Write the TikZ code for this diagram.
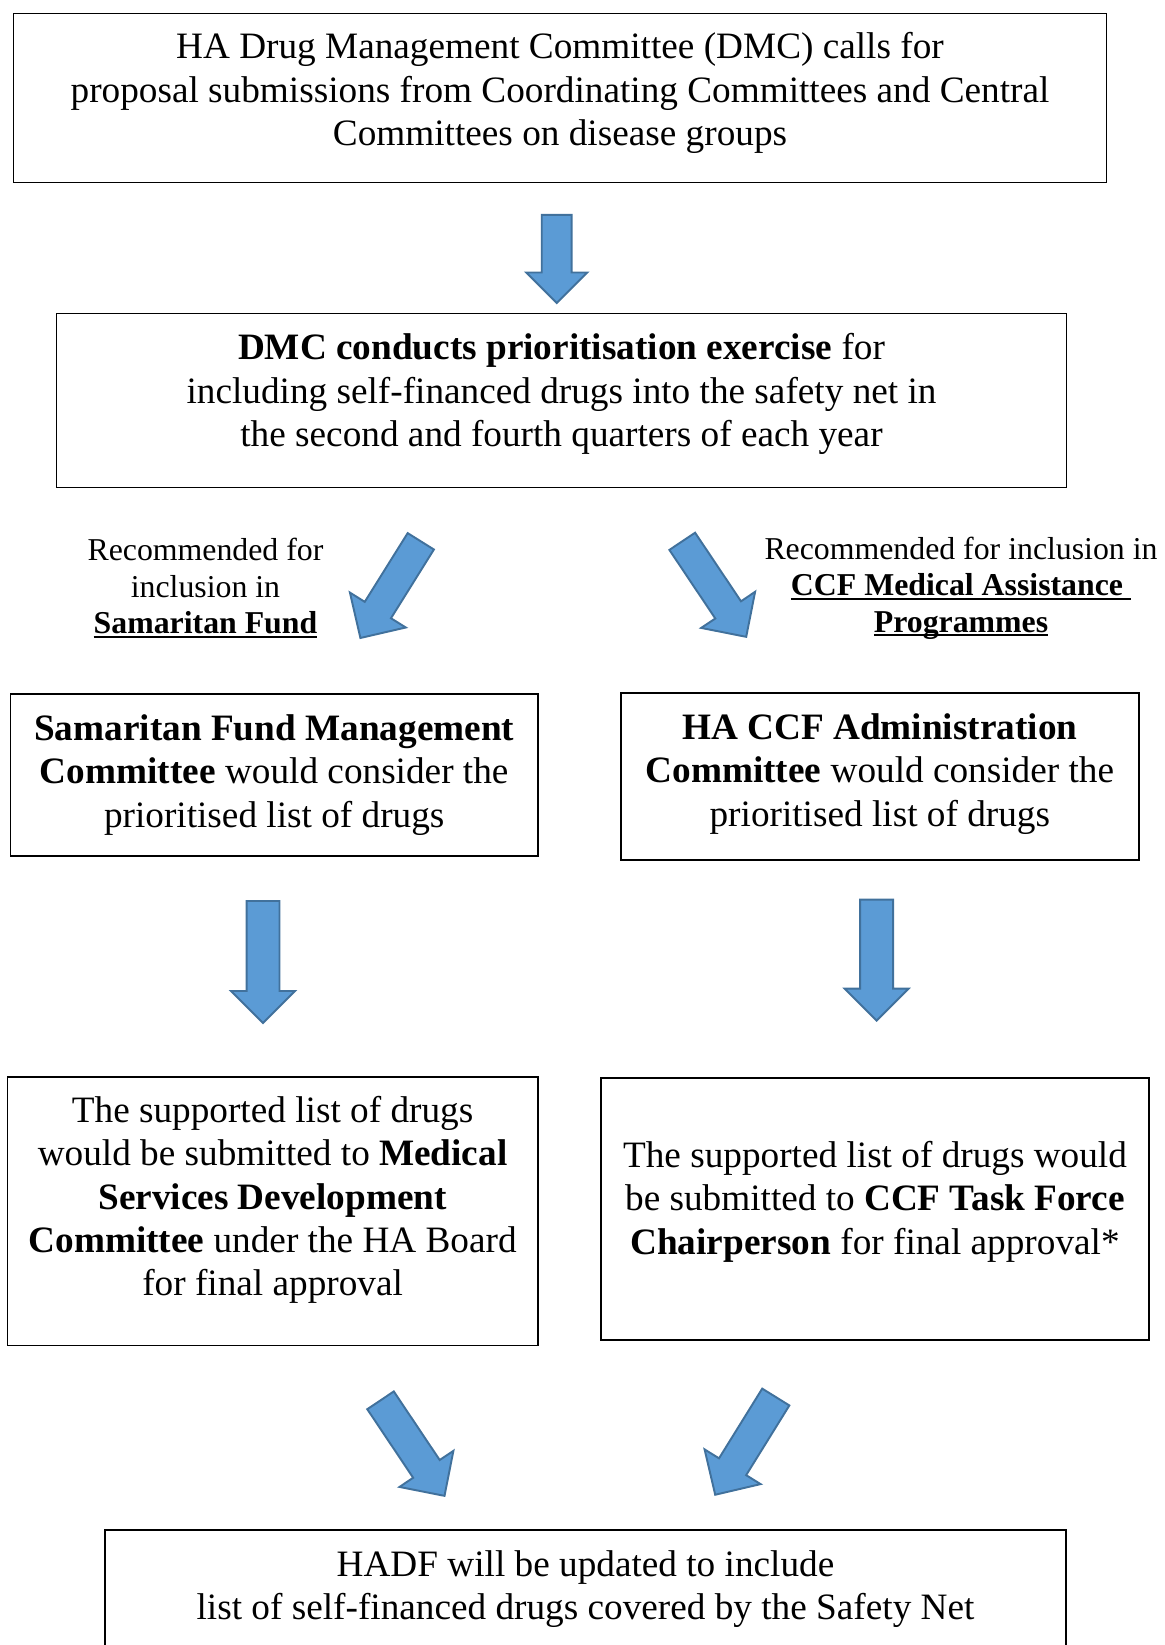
\documentclass[tikz,border=0pt]{standalone}
\usepackage{fontspec}
\setmainfont{Liberation Serif}
\usetikzlibrary{shapes.arrows}
\definecolor{arrowfill}{RGB}{91,155,213}
\definecolor{arrowline}{RGB}{65,113,156}
\newcommand{\boldul}[1]{\setbox0=\hbox{\textbf{#1}}\rlap{\rule[-2.4pt]{\wd0}{1.2pt}}\box0}

\begin{document}
\begin{tikzpicture}[x=0.02cm,y=0.02cm]
\tikzstyle{box}=[draw=black, line width=0.9pt, inner sep=0pt]
\tikzstyle{txt}=[align=center, inner sep=0pt, font=\fontsize{21.2}{24.7}\selectfont]
\tikzstyle{lbl}=[align=center, inner sep=0pt, font=\fontsize{18.1}{20.8}\selectfont]
\tikzstyle{blk}=[single arrow, draw=arrowline, fill=arrowfill, line width=1.1pt, inner xsep=0pt, anchor=tail]
\clip (0,0) rectangle (1164,-1645);
\node [box, minimum width=21.86cm, minimum height=3.38cm] (call) at (560,-98) {};
\node [txt] (callt) at (560,-93) {HA Drug Management Committee (DMC) calls for\\proposal submissions from Coordinating Committees and Central\\Committees on disease groups};
\node [box, minimum width=20.2cm, minimum height=3.48cm] (prio) at (561.5,-400.5) {};
\node [txt] (priot) at (561.5,-394) {\textbf{DMC conducts prioritisation exercise} for\\including self-financed drugs into the safety net in\\the second and fourth quarters of each year};
\node [box, minimum width=10.55cm, minimum height=3.24cm] (sfmc) at (274.2,-775) {};
\node [txt] (sfmct) at (274.2,-775) {\textbf{Samaritan Fund Management}\\\textbf{Committee} would consider the\\prioritised list of drugs};
\node [box, minimum width=10.36cm, minimum height=3.34cm] (ccfac) at (879.8,-776.5) {};
\node [txt] (ccfact) at (879.8,-774) {\textbf{HA CCF Administration}\\\textbf{Committee} would consider the\\prioritised list of drugs};
\node [box, minimum width=10.61cm, minimum height=5.37cm] (msdc) at (272.6,-1211.2) {};
\node [txt] (msdct) at (272.6,-1200) {The supported list of drugs\\would be submitted to \textbf{Medical}\\\textbf{Services Development}\\\textbf{Committee} under the HA Board\\for final approval};
\node [box, minimum width=10.97cm, minimum height=5.24cm] (ccftf) at (875,-1209) {};
\node [txt] (ccftft) at (875,-1201.5) {The supported list of drugs would\\be submitted to \textbf{CCF Task Force}\\\textbf{Chairperson} for final approval*};
\node [box, minimum width=19.22cm, minimum height=4cm] (hadf) at (585.5,-1630) {};
\node [txt] (hadft) at (585.5,-1589) {HADF will be updated to include\\list of self-financed drugs covered by the Safety Net};
\node [lbl] (sflbl) at (205.5,-588) {Recommended for\\inclusion in\\\boldul{Samaritan Fund}};
\node [lbl] (ccflbl) at (961,-588) {Recommended for inclusion in\\\boldul{CCF Medical Assistance }\\\boldul{Programmes}};
\node [blk, rotate=-90, minimum height=1.76cm, inner ysep=0.28cm, single arrow head extend=0.31cm] (a1) at (556.7,-214) {};
\node [blk, rotate=238, minimum height=2.28cm, inner ysep=0.29cm, single arrow head extend=0.35cm] (a2) at (421.3,-540.5) {};
\node [blk, rotate=-56.2, minimum height=2.30cm, inner ysep=0.29cm, single arrow head extend=0.34cm] (a3) at (681.7,-540.5) {};
\node [blk, rotate=-90, minimum height=2.44cm, inner ysep=0.31cm, single arrow head extend=0.31cm] (a4) at (263,-900) {};
\node [blk, rotate=-90, minimum height=2.42cm, inner ysep=0.31cm, single arrow head extend=0.31cm] (a5) at (876.6,-898.6) {};
\node [blk, rotate=-56.2, minimum height=2.30cm, inner ysep=0.30cm, single arrow head extend=0.33cm] (a6) at (380,-1399.5) {};
\node [blk, rotate=238.2, minimum height=2.30cm, inner ysep=0.30cm, single arrow head extend=0.34cm] (a7) at (776.3,-1396.2) {};
\end{tikzpicture}
\end{document}
